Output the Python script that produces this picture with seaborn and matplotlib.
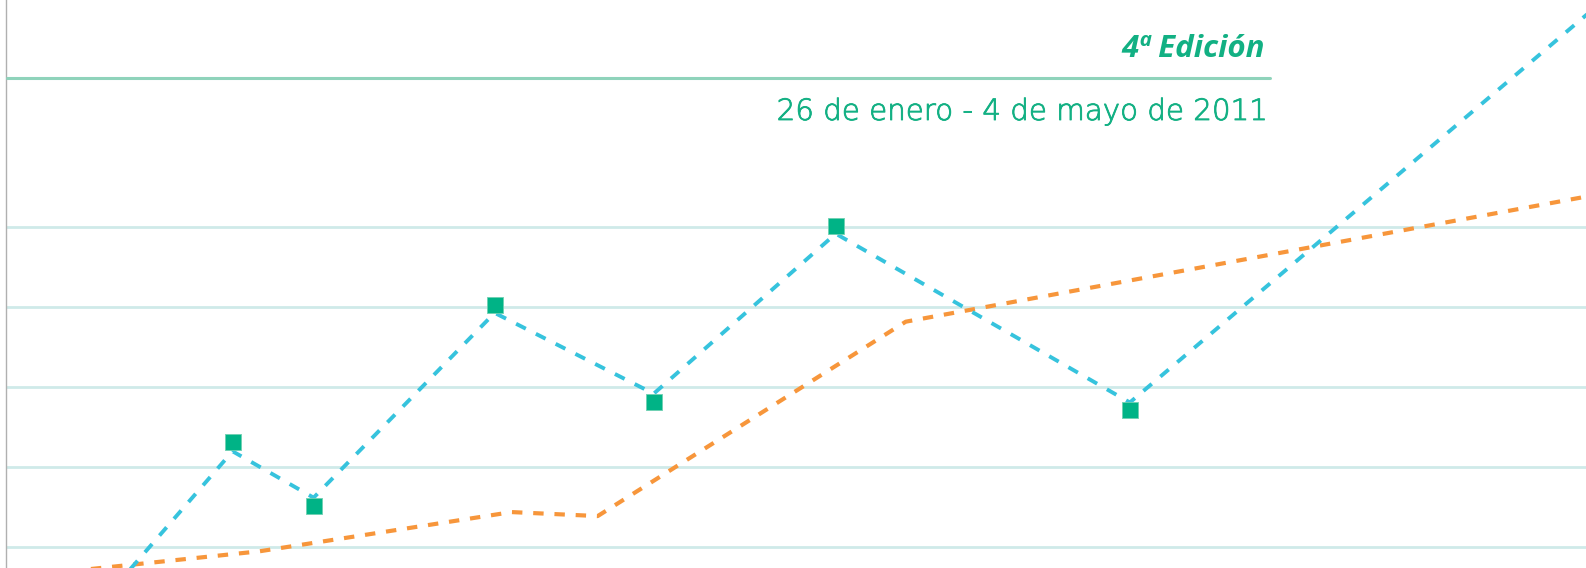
import matplotlib
matplotlib.use("Agg")
import matplotlib.pyplot as plt
import matplotlib.patheffects as pe
from matplotlib.lines import Line2D
import seaborn as sns
import pandas as pd

# Serie principal (línea azul discontinua): día y valor de cada vértice
dias_serie = [5.0, 11.35, 15.4, 24.45, 32.4, 41.5, 56.2, 82.2]
valores_serie = [37, 220, 162, 393, 292, 492, 281, 833]

# Puntos destacados (cuadrados verdes)
dias_puntos = [11.35, 15.4, 24.45, 32.4, 41.5, 56.2]
valores_puntos = [231, 152, 403, 281, 502, 271]

# Serie acumulada (línea naranja discontinua)
dias_acum = [-1.0, 12.7, 25.3, 29.6, 45.0, 82.2]
valores_acum = [59, 95, 144, 139, 382, 553]

# Líneas de referencia horizontales
niveles = [100, 200, 300, 400, 500]

titulo = "4ª Edición"
subtitulo = "26 de enero - 4 de mayo de 2011"

AZUL = "#36c3dd"
NARANJA = "#f7963b"
VERDE = "#00b386"
VERDE_TEXTO = "#12b083"
REJILLA = "#cfeae9"

sns.set_style("white")

W, H = 1586, 568
fig = plt.figure(figsize=(W / 100, H / 100), dpi=100)
left = 5.5 / W
ax = fig.add_axes([left, 0, 1 - left, 1])

df_serie = pd.DataFrame({"dia": dias_serie, "valor": valores_serie})
df_puntos = pd.DataFrame({"dia": dias_puntos, "valor": valores_puntos})
df_acum = pd.DataFrame({"dia": dias_acum, "valor": valores_acum})

sns.lineplot(data=df_acum, x="dia", y="valor", ax=ax, color=NARANJA,
             linewidth=3.0, linestyle=(0, (2.5, 2.6)),
             dash_capstyle="butt", zorder=3)
sns.lineplot(data=df_serie, x="dia", y="valor", ax=ax, color=AZUL,
             linewidth=2.8, linestyle=(0, (2.8, 2.9)),
             dash_capstyle="butt", zorder=4)
sns.scatterplot(data=df_puntos, x="dia", y="valor", ax=ax, color=VERDE,
                marker="s", s=132, edgecolor="#6fd0b2", linewidth=0.6,
                zorder=5)

ax.set_xlim(0, 79)
ax.set_ylim(74.1, 784.1)
ax.set_yticks(niveles)
ax.set_xticks([])
ax.yaxis.grid(True, color=REJILLA, linewidth=2.0)
ax.tick_params(axis="y", length=0, labelleft=False)
ax.set_xlabel("")
ax.set_ylabel("")
for lado in ["top", "right", "bottom"]:
    ax.spines[lado].set_visible(False)
ax.spines["left"].set_color("#b0b0b0")
ax.spines["left"].set_linewidth(1.0)
ax.set_axisbelow(True)

# Cabecera: título, filete y fechas
fig.text(1265 / W, 1 - 56.7 / H, titulo, ha="right", va="baseline",
         fontsize=22.5, fontweight="bold", fontstyle="italic",
         family="Open Sans", color=VERDE_TEXTO)
fig.add_artist(Line2D([7 / W, 1270 / W], [1 - 78 / H, 1 - 78 / H],
                      color="#8fd3bb", linewidth=2.2))
fig.text(1267 / W, 1 - 120 / H, subtitulo, ha="right", va="baseline",
         fontsize=21.1, fontweight="light", family="DejaVu Sans",
         color=VERDE_TEXTO,
         path_effects=[pe.withStroke(linewidth=0.6, foreground=VERDE_TEXTO)])

fig.savefig("out.png", dpi=100, facecolor="white")
